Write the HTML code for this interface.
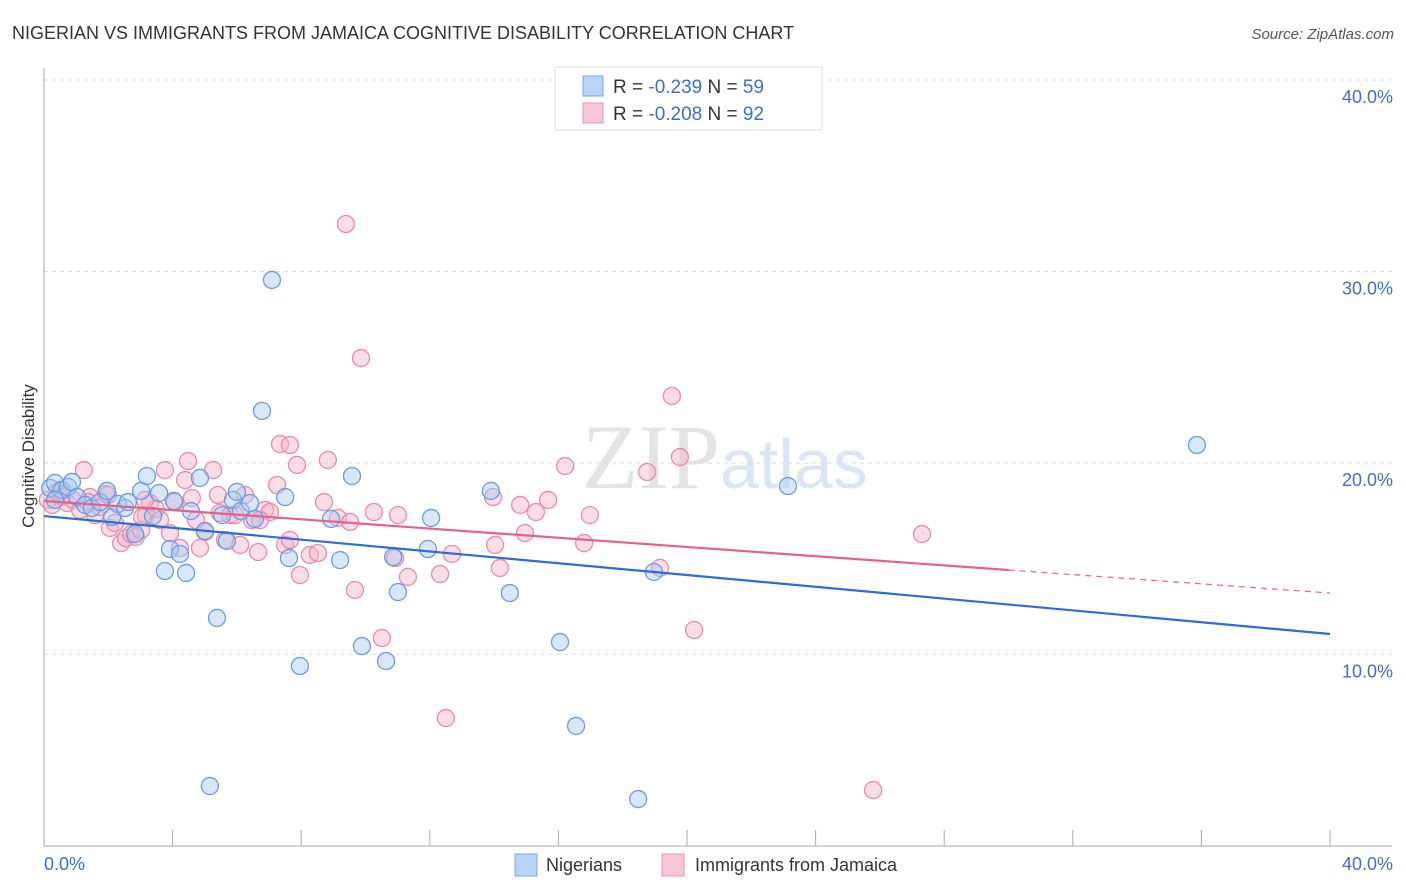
<!DOCTYPE html>
<html><head><meta charset="utf-8"><style>
body{margin:0;background:#fff;font-family:"Liberation Sans",sans-serif}
svg{display:block}
</style></head><body>
<svg id="c" width="1406" height="892">
<text x="12" y="39" font-size="18" fill="#333">NIGERIAN VS IMMIGRANTS FROM JAMAICA COGNITIVE DISABILITY CORRELATION CHART</text>
<text x="1394" y="39" font-size="15" fill="#555" font-style="italic" text-anchor="end">Source: ZipAtlas.com</text>
<text x="720" y="488" font-size="92" fill="#e4e4e4" text-anchor="end" font-family="Liberation Serif">ZIP</text>
<text x="720" y="488" font-size="70" fill="#dbe6f4">atlas</text>
<g id="grid"></g>
<g id="axes"></g>
<g id="pts"></g>
<g id="trend"></g>
<text transform="translate(34,456) rotate(-90)" font-size="17" fill="#333" text-anchor="middle">Cognitive Disability</text>
<g>
<rect x="555" y="67" width="267" height="63" fill="#fff" stroke="#ddd"/>
<rect x="583" y="76" width="20" height="20" fill="#b8d4f6" stroke="#7aa6e6"/>
<rect x="583" y="103" width="20" height="20" fill="#f8c6d6" stroke="#ea94b2"/>
<text x="613" y="93" font-size="19" fill="#333">R = <tspan fill="#3a6fd0">-0.239</tspan>   N = <tspan fill="#3a6fd0">59</tspan></text>
<text x="613" y="120" font-size="19" fill="#333">R = <tspan fill="#3a6fd0">-0.208</tspan>   N = <tspan fill="#3a6fd0">92</tspan></text>
</g>
<g>
<rect x="515" y="854" width="22" height="22" fill="#b8d4f6" stroke="#7aa6e6"/>
<text x="546" y="871" font-size="18" fill="#333">Nigerians</text>
<rect x="662" y="854" width="22" height="22" fill="#f8c6d6" stroke="#ea94b2"/>
<text x="695" y="871" font-size="18" fill="#333">Immigrants from Jamaica</text>
</g>
</svg>
<script>
const yTicks=[10,20,30,40];
const yTickLabels=["10.0%","20.0%","30.0%","40.0%"];
const xTicks=[0,4,8,12,16,20,24,28,32,36,40];
const blueX=[0.19,0.34,0.56,0.75,0.87,1.03,1.28,1.49,1.74,1.96,2.12,2.30,2.52,2.61,2.83,3.02,3.20,3.39,3.58,3.76,3.92,4.04,4.23,4.42,4.57,4.85,5.01,5.38,5.54,5.69,5.88,6.00,6.12,6.41,6.56,6.78,7.09,7.50,7.62,7.96,8.93,9.21,9.58,9.89,10.64,10.86,11.01,11.94,12.04,13.90,14.49,16.05,16.55,18.48,18.97,23.14,35.86,5.16,0.34];
const blueY=[18.69,18.96,18.59,18.75,19.01,18.22,17.81,17.65,17.96,18.54,17.18,17.86,17.65,17.96,16.29,18.54,19.32,17.23,18.43,14.36,15.51,18.02,15.25,14.26,17.49,19.22,16.45,11.91,17.28,15.93,18.07,18.49,17.49,17.91,17.08,22.72,29.56,18.22,15.04,9.40,17.08,14.93,19.32,10.44,9.66,15.09,13.26,15.51,17.13,18.54,13.21,10.65,6.27,2.45,14.31,18.80,20.94,3.13,18.07];
const pinkX=[0.12,0.25,0.40,0.56,0.72,0.90,1.12,1.24,1.43,1.59,1.74,1.93,2.05,2.21,2.40,2.55,2.71,2.86,3.02,3.17,3.30,3.48,3.61,3.76,3.92,4.07,4.23,4.39,4.48,4.60,4.73,4.85,5.01,5.26,5.41,5.47,5.63,5.79,5.94,6.10,6.25,6.47,6.66,6.87,7.03,7.25,7.34,7.50,7.65,7.87,7.96,8.27,8.52,8.71,8.83,9.14,9.52,9.67,9.86,9.39,10.26,10.51,10.92,11.01,11.32,12.32,12.50,12.69,13.97,14.03,14.18,14.81,14.96,15.30,15.68,16.21,16.80,16.98,18.76,19.16,19.53,19.78,20.22,25.79,27.31,1.99,1.37,3.14,6.72,7.65,3.05,0.50];
const pinkY=[18.07,17.81,18.49,18.22,17.91,18.07,17.55,19.63,18.22,17.28,17.70,18.38,16.61,16.87,15.82,16.08,16.29,16.14,16.50,17.28,17.91,17.60,17.02,19.63,16.34,17.96,15.56,19.11,20.10,18.17,17.02,15.56,16.40,19.63,18.33,17.39,15.98,17.28,17.28,15.72,18.33,17.02,15.35,17.55,17.44,18.85,20.99,15.72,20.94,19.90,14.15,15.20,15.30,17.96,20.16,17.13,16.92,13.37,25.48,32.48,17.44,10.86,15.04,17.28,14.05,14.20,6.68,15.25,18.22,15.72,14.52,17.81,16.34,17.44,18.07,19.84,15.82,17.28,19.53,14.52,23.50,20.31,11.28,2.92,16.29,18.33,17.96,18.07,17.02,15.98,17.18,18.59];
const blueTrend=[17.23,11.07];
const pinkTrend=[18.02,13.21];
const pinkSolidEnd=30;
const NS="http://www.w3.org/2000/svg";
const sx=v=>44+v*32.15, sy=v=>846-v*19.15;
function mk(t,a,p){const e=document.createElementNS(NS,t);for(const k in a)e.setAttribute(k,a[k]);p.appendChild(e);return e;}
const grid=document.getElementById('grid'),axes=document.getElementById('axes'),pts=document.getElementById('pts'),tr=document.getElementById('trend');
yTicks.forEach((t,i)=>{
 const l=mk('line',{x1:44,x2:1392,y1:sy(t),y2:sy(t),stroke:'#ddd','stroke-dasharray':'4,4'},grid);
 
 
 const tx=mk('text',{x:1393,y:sy(t)+23,'font-size':18,fill:'#3a6fd0','text-anchor':'end'},axes);
 tx.textContent=yTickLabels[i];
 
 
});
const ya=mk('line',{x1:44,x2:44,y1:68,y2:846,stroke:'#aaa'},axes);


const xa=mk('line',{x1:44,x2:1392,y1:846,y2:846,stroke:'#aaa'},axes);


xTicks.forEach(t=>{
 if(t===0)return;
 const l=mk('line',{x1:sx(t),x2:sx(t),y1:830,y2:846,stroke:'#aaa'},axes);
 
 
});
[[0,'0.0%','start'],[40,'40.0%','end']].forEach(([v,s,a])=>{
 const tx=mk('text',{x:v===0?44:1393,y:870,'font-size':18,fill:'#3a6fd0','text-anchor':a},axes);
 tx.textContent=s;
 
 
});
function dots(X,Y,fill,stroke,name){X.forEach((x,i)=>{
 const c=mk('circle',{cx:sx(x),cy:sy(Y[i]),r:8.5,fill:fill,'fill-opacity':0.45,stroke:stroke,'stroke-width':1.3},pts);
 
 
});}
dots(pinkX,pinkY,'#f4b4ca','#e88aaa','point-jamaica');
dots(blueX,blueY,'#a9c9f2','#6a9ce2','point-nigerians');
const bl=mk('line',{x1:sx(0),y1:sy(blueTrend[0]),x2:sx(40),y2:sy(blueTrend[1]),stroke:'#2a6dd6','stroke-width':2.2},tr);


const pm=pinkTrend[0]+(pinkTrend[1]-pinkTrend[0])*pinkSolidEnd/40;
const pl=mk('line',{x1:sx(0),y1:sy(pinkTrend[0]),x2:sx(pinkSolidEnd),y2:sy(pm),stroke:'#e8608a','stroke-width':2.2},tr);


const pd=mk('line',{x1:sx(pinkSolidEnd),y1:sy(pm),x2:sx(40),y2:sy(pinkTrend[1]),stroke:'#e8608a','stroke-width':1.2,'stroke-dasharray':'6,5'},tr);


</script>
</body></html>
